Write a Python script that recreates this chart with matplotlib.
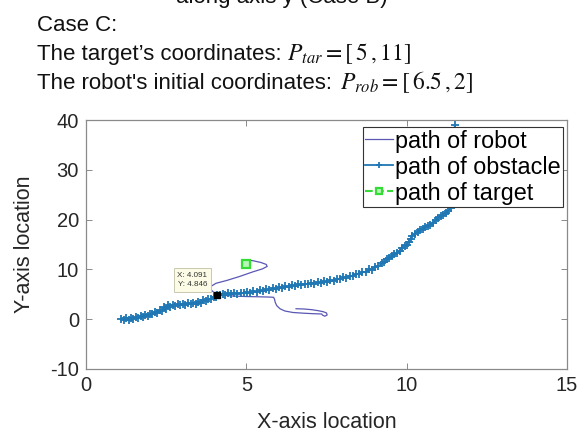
import matplotlib
matplotlib.use("Agg")
import matplotlib.pyplot as plt

plt.rcParams['font.family'] = ['Liberation Sans', 'DejaVu Sans']
plt.rcParams['mathtext.fontset'] = 'stix'
plt.rcParams['axes.unicode_minus'] = False

# Obstacle trajectory (x, y)
obs_x = [1.10, 1.18, 1.25, 1.33, 1.40, 1.47, 1.55, 1.62, 1.70, 1.78, 1.85, 1.92,
         2.00, 2.07, 2.15, 2.22, 2.30, 2.37, 2.44, 2.50, 2.56, 2.63, 2.70, 2.78,
         2.86, 2.94, 3.02, 3.10, 3.18, 3.26, 3.34, 3.42, 3.50, 3.58, 3.66, 3.74,
         3.82, 3.90, 3.98, 4.05, 4.09,
         4.18, 4.26, 4.35, 4.44, 4.53, 4.62, 4.72, 4.82, 4.92, 5.02, 5.12, 5.22,
         5.32, 5.42, 5.52, 5.62, 5.72, 5.82, 5.92, 6.02, 6.12, 6.22, 6.32, 6.42,
         6.52, 6.62, 6.72, 6.82, 6.92, 7.02, 7.12, 7.22, 7.32, 7.42, 7.52, 7.62,
         7.72, 7.82, 7.92, 8.02, 8.12, 8.22, 8.32, 8.42, 8.52, 8.62, 8.72, 8.82,
         8.92, 9.02, 9.12, 9.22, 9.30, 9.38, 9.46, 9.54, 9.62, 9.70, 9.78, 9.86,
         9.94, 10.00, 10.06, 10.12, 10.18, 10.26, 10.34, 10.42, 10.50, 10.58,
         10.66, 10.74, 10.82, 10.90, 10.98, 11.06, 11.14, 11.22, 11.30, 11.38,
         11.42, 11.45, 11.47, 11.49, 11.50]
obs_y = [0.1, -0.2, 0.3, -0.1, 0.2, 0.0, 0.5, 0.2, 0.6, 0.4, 0.9, 0.7,
         1.1, 1.0, 1.5, 1.2, 1.8, 1.6, 2.4, 2.0, 2.8, 2.5, 2.9, 2.7,
         3.0, 2.8, 3.1, 2.9, 3.2, 3.0, 3.3, 3.1, 3.5, 3.3, 3.8, 3.6,
         4.1, 4.0, 4.5, 4.4, 4.85,
         4.9, 5.1, 4.9, 5.2, 5.0, 5.3, 5.1, 5.3, 5.2, 5.4, 5.2, 5.6,
         5.4, 5.8, 5.6, 6.0, 5.8, 6.2, 6.0, 6.4, 6.2, 6.6, 6.4, 6.8,
         6.6, 7.0, 6.9, 7.1, 7.0, 7.3, 7.1, 7.4, 7.3, 7.6, 7.4, 7.8,
         7.6, 8.1, 8.0, 8.4, 8.3, 8.7, 8.6, 9.1, 9.0, 9.5, 9.4, 10.0,
         9.9, 10.5, 10.6, 11.2, 11.4, 12.0, 12.2, 12.7, 13.0, 13.3, 13.7, 14.2,
         14.6, 15.0, 15.6, 16.2, 16.8, 17.2, 17.6, 17.9, 18.2, 18.5,
         18.7, 19.0, 19.3, 19.9, 20.3, 20.7, 21.0, 21.4, 21.8, 22.3,
         26.0, 30.0, 34.0, 37.0, 39.0]

# Robot trajectory (x, y)
rob_x = [6.55, 6.80, 7.05, 7.25, 7.40, 7.50, 7.52, 7.45, 7.38, 7.35, 7.10, 6.80,
         6.45, 6.20, 6.05, 5.95, 5.90, 5.88, 5.85, 5.70, 5.40, 5.00, 4.60, 4.30,
         4.12, 4.00, 3.90, 3.90, 4.05, 4.40, 4.80, 5.20, 5.50, 5.65, 5.62, 5.45,
         5.20, 5.00, 4.95, 5.00]
rob_y = [2.10, 2.05, 1.90, 1.70, 1.50, 1.25, 0.85, 0.60, 0.80, 1.05, 1.10, 1.20,
         1.35, 1.65, 2.10, 2.70, 3.40, 4.00, 4.40, 4.45, 4.50, 4.55, 4.65, 4.80,
         4.95, 5.30, 5.90, 6.60, 7.20, 7.80, 8.60, 9.50, 10.10, 10.60, 11.00, 11.40,
         11.75, 11.90, 11.60, 11.00]

# Target position
tar_x = [5.0]
tar_y = [11.0]

# Data tip
tip_x = 4.091
tip_y = 4.846

x_ticks = [0, 5, 10, 15]
y_ticks = [-10, 0, 10, 20, 30, 40]

W, H = 587, 434
fig = plt.figure(figsize=(W / 100, H / 100), dpi=100)

# Document text above the plot
txt = dict(fontsize=16, va='baseline', color='#111111')
fig.text(282 / W, 1 - 3 / H, "along axis y (Case B)", ha='center', **txt)
fig.text(37 / W, 1 - 31 / H, "Case C:", **txt)
fig.text(37 / W, 1 - 60 / H, "The target\u2019s coordinates:", **txt)
fig.text(287 / W, 1 - 60 / H, r"$P_{tar}=[\,5\,,11]$", fontsize=17,
         va='baseline', color='#111111')
fig.text(37 / W, 1 - 89 / H, "The robot's initial coordinates:", **txt)
fig.text(340 / W, 1 - 89 / H, r"$P_{rob}=[\,6.5\,,2]$", fontsize=17,
         va='baseline', color='#111111')

ax = fig.add_axes([86 / W, 1 - 369 / H, (567 - 86) / W, (369 - 120) / H])

ax.plot(rob_x, rob_y, '-', color='#5a58b4', lw=0.9, label='path of robot')
ax.plot(obs_x, obs_y, '-+', color='#1f77b4', lw=1.3, ms=6, mew=1.3,
        label='path of obstacle')
ax.plot(tar_x, tar_y, '--s', color='#33dd33', ms=6, mew=1.6,
        mfc='#b8f5b8', label='path of target')

# Data tip marker and label
ax.plot([tip_x], [tip_y], 's', color='black', ms=4.5, zorder=6)
ax.annotate(f"X: {tip_x:.3f}\nY: {tip_y:.3f}", xy=(tip_x, tip_y),
            xytext=(-7, 5), textcoords='offset points', ha='right', va='bottom',
            fontsize=5.8, color='#333333', linespacing=1.5,
            bbox=dict(boxstyle='square,pad=0.45', fc='#fbfbe6', ec='#c9c9b0', lw=0.7),
            zorder=7)

ax.set_xlim(0, 15)
ax.set_ylim(-10, 40)
ax.set_xticks(x_ticks)
ax.set_yticks(y_ticks)
ax.tick_params(direction='in', length=4, width=0.6, color='#777777',
               labelsize=14.5, labelcolor='#262626', top=True, right=True)
ax.tick_params(axis='x', pad=5)
ax.tick_params(axis='y', pad=5)
for s in ax.spines.values():
    s.set_color('#8a8a8a')
    s.set_linewidth(0.9)

ax.set_xlabel("X-axis location", fontsize=15.5, color='#262626', labelpad=12)
ax.set_ylabel("Y-axis location", fontsize=15.5, color='#262626', labelpad=11)

leg = ax.legend(loc='upper right', bbox_to_anchor=(0.992, 0.971), borderaxespad=0,
                fontsize=16.8, fancybox=False, framealpha=1, edgecolor='#333333',
                handlelength=1.2, handletextpad=0.1, labelspacing=0.13,
                borderpad=0.1, markerscale=0.8)
leg.get_frame().set_linewidth(0.8)
leg.set_zorder(10)

fig.savefig("out.png", dpi=100)
